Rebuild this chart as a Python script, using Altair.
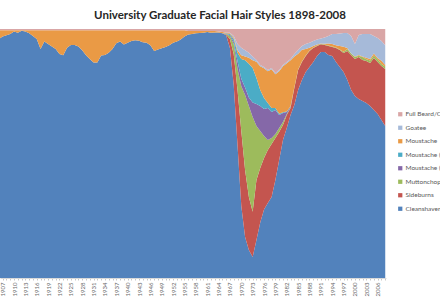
import json
import altair as alt
import pandas as pd

years = list(range(1906, 2009))

label_years = [1907, 1910, 1913, 1916, 1919, 1922, 1925, 1928, 1931, 1934, 1937,
               1940, 1943, 1946, 1949, 1952, 1955, 1958, 1961, 1964, 1967, 1970,
               1973, 1976, 1979, 1982, 1985, 1988, 1991, 1994, 1997, 2000, 2003, 2006]

cleanshaven = [
    96, 97, 97.5, 98, 99, 98.5, 99.3, 99, 98.3, 97.2,
    96, 92, 95, 94, 93, 92, 90, 89.5, 92.5, 93.6,
    93.6, 93, 91.5, 89.5, 88, 86.5, 86.5, 89.4, 89.6, 90.5,
    92, 94.3, 95, 93.8, 94.5, 95.2, 95.5, 95.3, 94.7, 94.5,
    93.5, 91.2, 91.8, 92.3, 92.8, 93.5, 94.5, 95, 95.8, 97,
    97.8, 98, 98.3, 98.4, 98.5, 98.8, 98.5, 98.6, 98.6, 98.3,
    97.5, 92.4, 77.5, 53.4, 28.9, 16.5, 11.2, 8.4, 15.3, 22.3,
    27.5, 30.1, 32.5, 39.4, 47.4, 55.4, 60.2, 65.5, 69.5, 75.5,
    79.5, 82.7, 84.7, 86.7, 89.2, 90.8, 90.8, 89.6, 89.2, 86.7,
    84.7, 82.7, 79.5, 75.5, 73.1, 71.9, 71.1, 70.3, 69.1, 67.5,
    65.9, 63.5, 61]

sideburns = [0] * 60 + [
    0.3, 3.6, 12.5, 22.1, 30.1, 26.9, 21.3, 18.2, 24.1, 21.9,
    20.7, 21.3, 21.3, 16.8, 11.2, 6.0, 5.3, 2.8, 6.8, 8.0,
    7.2, 6.5, 6.5, 5.7, 4.0, 3.1, 2.8, 3.6, 3.6, 5.7,
    6.9, 7.7, 11.7, 14.1, 14.9, 16.9, 16.5, 16.8, 17.2, 20.9,
    20.8, 21.6, 22.9]

muttonchops = [0] * 60 + [
    0.2, 1.2, 4.0, 8.5, 18.0, 30.1, 36.6, 38.1, 21.6, 14.8,
    8.8, 4.0, 2.4, 1.6, 1.6, 1.3, 0.4, 0.3, 0.3, 0.2,
    0.2, 0.2, 0.2, 0.2, 0.2, 0.2, 0.2, 0.2, 0.2, 0.2,
    0.2, 0.5, 0.8, 0.6, 0.8, 0.5, 1.2, 0.8, 1.0, 1.0,
    1.2, 0.8, 1.0]

moustache_purple = [0] * 60 + [
    0.1, 0.4, 1.0, 3.0, 3.0, 3.0, 3.4, 5.8, 8.9, 10.1,
    10.9, 12.9, 10.5, 9.7, 5.3, 3.6, 0.8, 0.3, 0, 0] + [0] * 23

moustache_teal = [0] * 60 + [
    0.2, 0.4, 1.0, 3.5, 8.0, 11.0, 13.5, 13.8, 10.4, 6.4,
    4.4, 2.0, 1.6, 0.8, 0.5, 0.3, 0.2, 0.1, 0, 0] + [0] * 23

moustache = [
    3.5, 2.5, 2, 1.5, 0.5, 1, 0.2, 0.5, 1.2, 2.3,
    3.5, 7.5, 4.5, 5.5, 6.5, 7.5, 9.5, 10, 7, 5.9,
    5.9, 6.5, 8, 10, 11.5, 13, 13, 10.1, 9.9, 9,
    7.5, 5.2, 4.5, 5.7, 5, 4.3, 4, 4.2, 4.8, 5,
    6, 8.3, 7.7, 7.2, 6.7, 6, 5, 4.5, 3.7, 2.5,
    1.4, 1.2, 0.9, 0.8, 0.7, 0.4, 0.7, 0.6, 0.4, 0.5,
    0.2, 0.3, 0.6, 1.0, 1.5, 1.5, 2.5, 3.2, 6.5, 9.5,
    11.9, 12.7, 15.5, 13.5, 17.0, 18.4, 19.3, 18.5, 12.4, 6.4,
    4.8, 2.6, 1.1, 0.6, 0.4, 0.1, 0.3, 0.8, 1.0, 0.9,
    1.4, 2.0, 0.4, 0.0, 0.2, 0.3, 0.2, 0.6, 0.7, 0.8,
    0.5, 1.3, 0.6]

goatee = [0] * 60 + [
    0, 0.2, 0.6, 2.5, 3.0, 2.5, 2.0, 1.5, 0.8, 0.5,
    0.5, 0.5, 0.5, 0.5, 0.5, 0.5, 0.5, 0.5, 1.0, 1.5,
    1.5, 2, 2, 2, 2, 2, 2.5, 3, 4, 4.5,
    5, 5.5, 6, 7, 5, 8, 9, 9.5, 10, 7,
    8, 8, 8]

full_beard = [0.5] * 50 + [0.8] * 8 + [1.0, 1.2] + [
    1.5, 1.5, 2.8, 6.0, 7.5, 8.5, 9.5, 11.0, 12.4, 14.5,
    15.3, 16.5, 15.7, 17.7, 16.5, 14.5, 13.3, 12.0, 10.0, 8.4,
    6.8, 6.0, 5.5, 4.8, 4.2, 3.8, 3.4, 2.8, 2.0, 2.0,
    1.8, 1.6, 1.6, 2.8, 6.0, 2.4, 2.0, 2.0, 2.0, 2.8,
    3.6, 4.8, 6.5]

# stacking order bottom -> top
series = [
    ("Cleanshaven", cleanshaven, "#5282BC"),
    ("Sideburns", sideburns, "#C4554F"),
    ("Muttonchops", muttonchops, "#9DBB5C"),
    ("Moustache (Pencil)", moustache_purple, "#8568A8"),
    ("Moustache (Handlebar)", moustache_teal, "#4BACC6"),
    ("Moustache", moustache, "#EA9A45"),
    ("Goatee", goatee, "#A6BAD9"),
    ("Full Beard/Chin Curtain", full_beard, "#D9A6A6"),
]

rows = []
for rank, (name, vals, _) in enumerate(series):
    for y, v in zip(years, vals):
        rows.append({"year": y, "style": name, "value": v, "rank": rank})
df = pd.DataFrame(rows)

legend_order = [s[0] for s in reversed(series)]
legend_colors = [s[2] for s in reversed(series)]

label_expr = "indexof(" + json.dumps(label_years) + ", datum.value) >= 0 ? datum.label : ''"

chart = alt.Chart(df).mark_area(clip=True, interpolate="linear").encode(
    x=alt.X("year:Q",
            scale=alt.Scale(domain=[1906.3, 2008.2], nice=False, zero=False),
            axis=alt.Axis(values=years[1:], labelExpr=label_expr, format="d",
                          labelAngle=270, labelFontSize=6, labelColor="#6a6a6a",
                          labelFont="Lato", labelPadding=2, tickSize=2,
                          tickColor="#C8C8C8", domainColor="#D9D9D9",
                          grid=False, title=None, labelOverlap=False,
                          labelFlush=False)),
    y=alt.Y("value:Q", stack="normalize", axis=None),
    color=alt.Color("style:N",
                    scale=alt.Scale(domain=legend_order, range=legend_colors),
                    legend=alt.Legend(orient="none", legendX=397, legendY=82,
                                      title=None, symbolType="square",
                                      symbolSize=18, symbolStrokeWidth=0,
                                      labelFontSize=6.5, labelFont="Lato",
                                      labelColor="#595959", rowPadding=6.5,
                                      labelOffset=2)),
    order=alt.Order("rank:Q", sort="ascending"),
).properties(
    width=386,
    height=249,
    autosize=alt.AutoSizeParams(type="none"),
    padding={"left": 0, "top": 29, "right": 54, "bottom": 22},
    title=alt.TitleParams(text="University Graduate Facial Hair Styles 1898-2008",
                          font="Lato", fontSize=11.5, fontWeight="bold",
                          color="#262626", anchor="middle", dx=27, offset=11.5,
                          dy=12.5, baseline="alphabetic"),
).configure_view(stroke=None)

chart.save("out.html", embed_options={"renderer": "svg", "actions": False})
